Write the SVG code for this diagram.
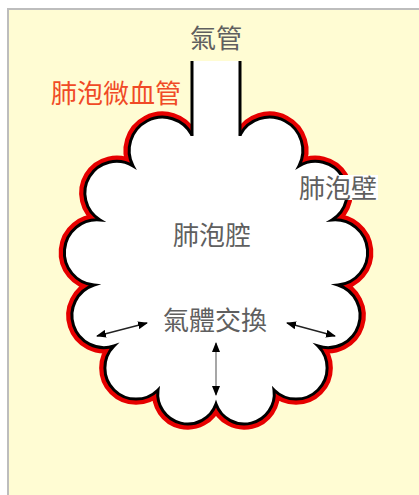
<svg xmlns="http://www.w3.org/2000/svg" width="419" height="495" viewBox="0 0 419 495">
  <style>
    .label { font-family: "Noto Sans CJK TC", "Noto Sans CJK SC", sans-serif; font-size: 26px; fill: #5f5f5f; text-anchor: middle; }
    .red-label { fill: #f04a26; text-anchor: start; }
    .wall-red { fill: none; stroke: #e60000; stroke-width: 11.5; stroke-linejoin: miter; stroke-miterlimit: 10; }
    .wall { fill: none; stroke: #000; stroke-width: 3; stroke-linejoin: miter; stroke-miterlimit: 10; }
    .cavity { fill: #fff; stroke: none; }
    .arrow { stroke: #222; stroke-width: 1.3; fill: none; marker-start: url(#head); marker-end: url(#head); }
  </style>
  <defs>
    <marker id="head" viewBox="0 0 10 8" refX="9" refY="4" markerWidth="10" markerHeight="8" markerUnits="userSpaceOnUse" orient="auto-start-reverse">
      <path d="M0,0 L10,4 L0,8 Z" fill="#000"/>
    </marker>
    <!-- scalloped outline of the alveolus, from the left trachea wall round to the right one -->
    <path id="scallops" d="M192,135
      A 30 30 0 0 0 133,166
      A 30 30 0 0 0 100,220
      A 30 30 0 0 0 94,285
      A 30 30 0 0 0 114,346
      A 30 30 0 0 0 158,390
      A 30 30 0 0 0 216,404
      A 30 30 0 0 0 274,390
      A 30 30 0 0 0 318,346
      A 30 30 0 0 0 338,285
      A 30 30 0 0 0 332,220
      A 30 30 0 0 0 299,166
      A 30 30 0 0 0 240,135"/>
  </defs>

  <!-- panel background -->
  <rect x="8" y="9" width="420" height="500" fill="#fffcd3" stroke="#bdbdbd" stroke-width="2"/>

  <g id="alveolus">
    <!-- capillary layer (red band outside the wall) -->
    <use href="#scallops" class="wall-red"/>
    <!-- air space: trachea channel plus the alveolar cavity -->
    <path class="cavity" d="M192,61 L192,135
      A 30 30 0 0 0 133,166
      A 30 30 0 0 0 100,220
      A 30 30 0 0 0 94,285
      A 30 30 0 0 0 114,346
      A 30 30 0 0 0 158,390
      A 30 30 0 0 0 216,404
      A 30 30 0 0 0 274,390
      A 30 30 0 0 0 318,346
      A 30 30 0 0 0 338,285
      A 30 30 0 0 0 332,220
      A 30 30 0 0 0 299,166
      A 30 30 0 0 0 240,135 L240,61 Z"/>
    <!-- alveolar wall -->
    <use href="#scallops" class="wall"/>
  </g>

  <g id="trachea">
    <line x1="192" y1="61" x2="192" y2="136" stroke="#000" stroke-width="3"/>
    <line x1="240" y1="61" x2="240" y2="136" stroke="#000" stroke-width="3"/>
    <text class="label" x="216" y="48">氣管</text>
  </g>

  <g id="capillary-label">
    <text class="label red-label" x="51" y="103">肺泡微血管</text>
  </g>

  <g id="wall-label">
    <rect x="297" y="175" width="81" height="25" fill="#fff"/>
    <text class="label" x="338" y="198">肺泡壁</text>
  </g>

  <g id="cavity-label">
    <text class="label" x="212" y="245">肺泡腔</text>
  </g>

  <g id="exchange-label">
    <text class="label" x="215" y="330">氣體交換</text>
  </g>

  <g id="connectors">
    <line class="arrow" x1="97" y1="336" x2="147" y2="323"/>
    <line class="arrow" x1="287" y1="323" x2="335" y2="336"/>
    <line class="arrow" x1="216" y1="343" x2="216" y2="395" style="stroke:#777"/>
  </g>
</svg>
